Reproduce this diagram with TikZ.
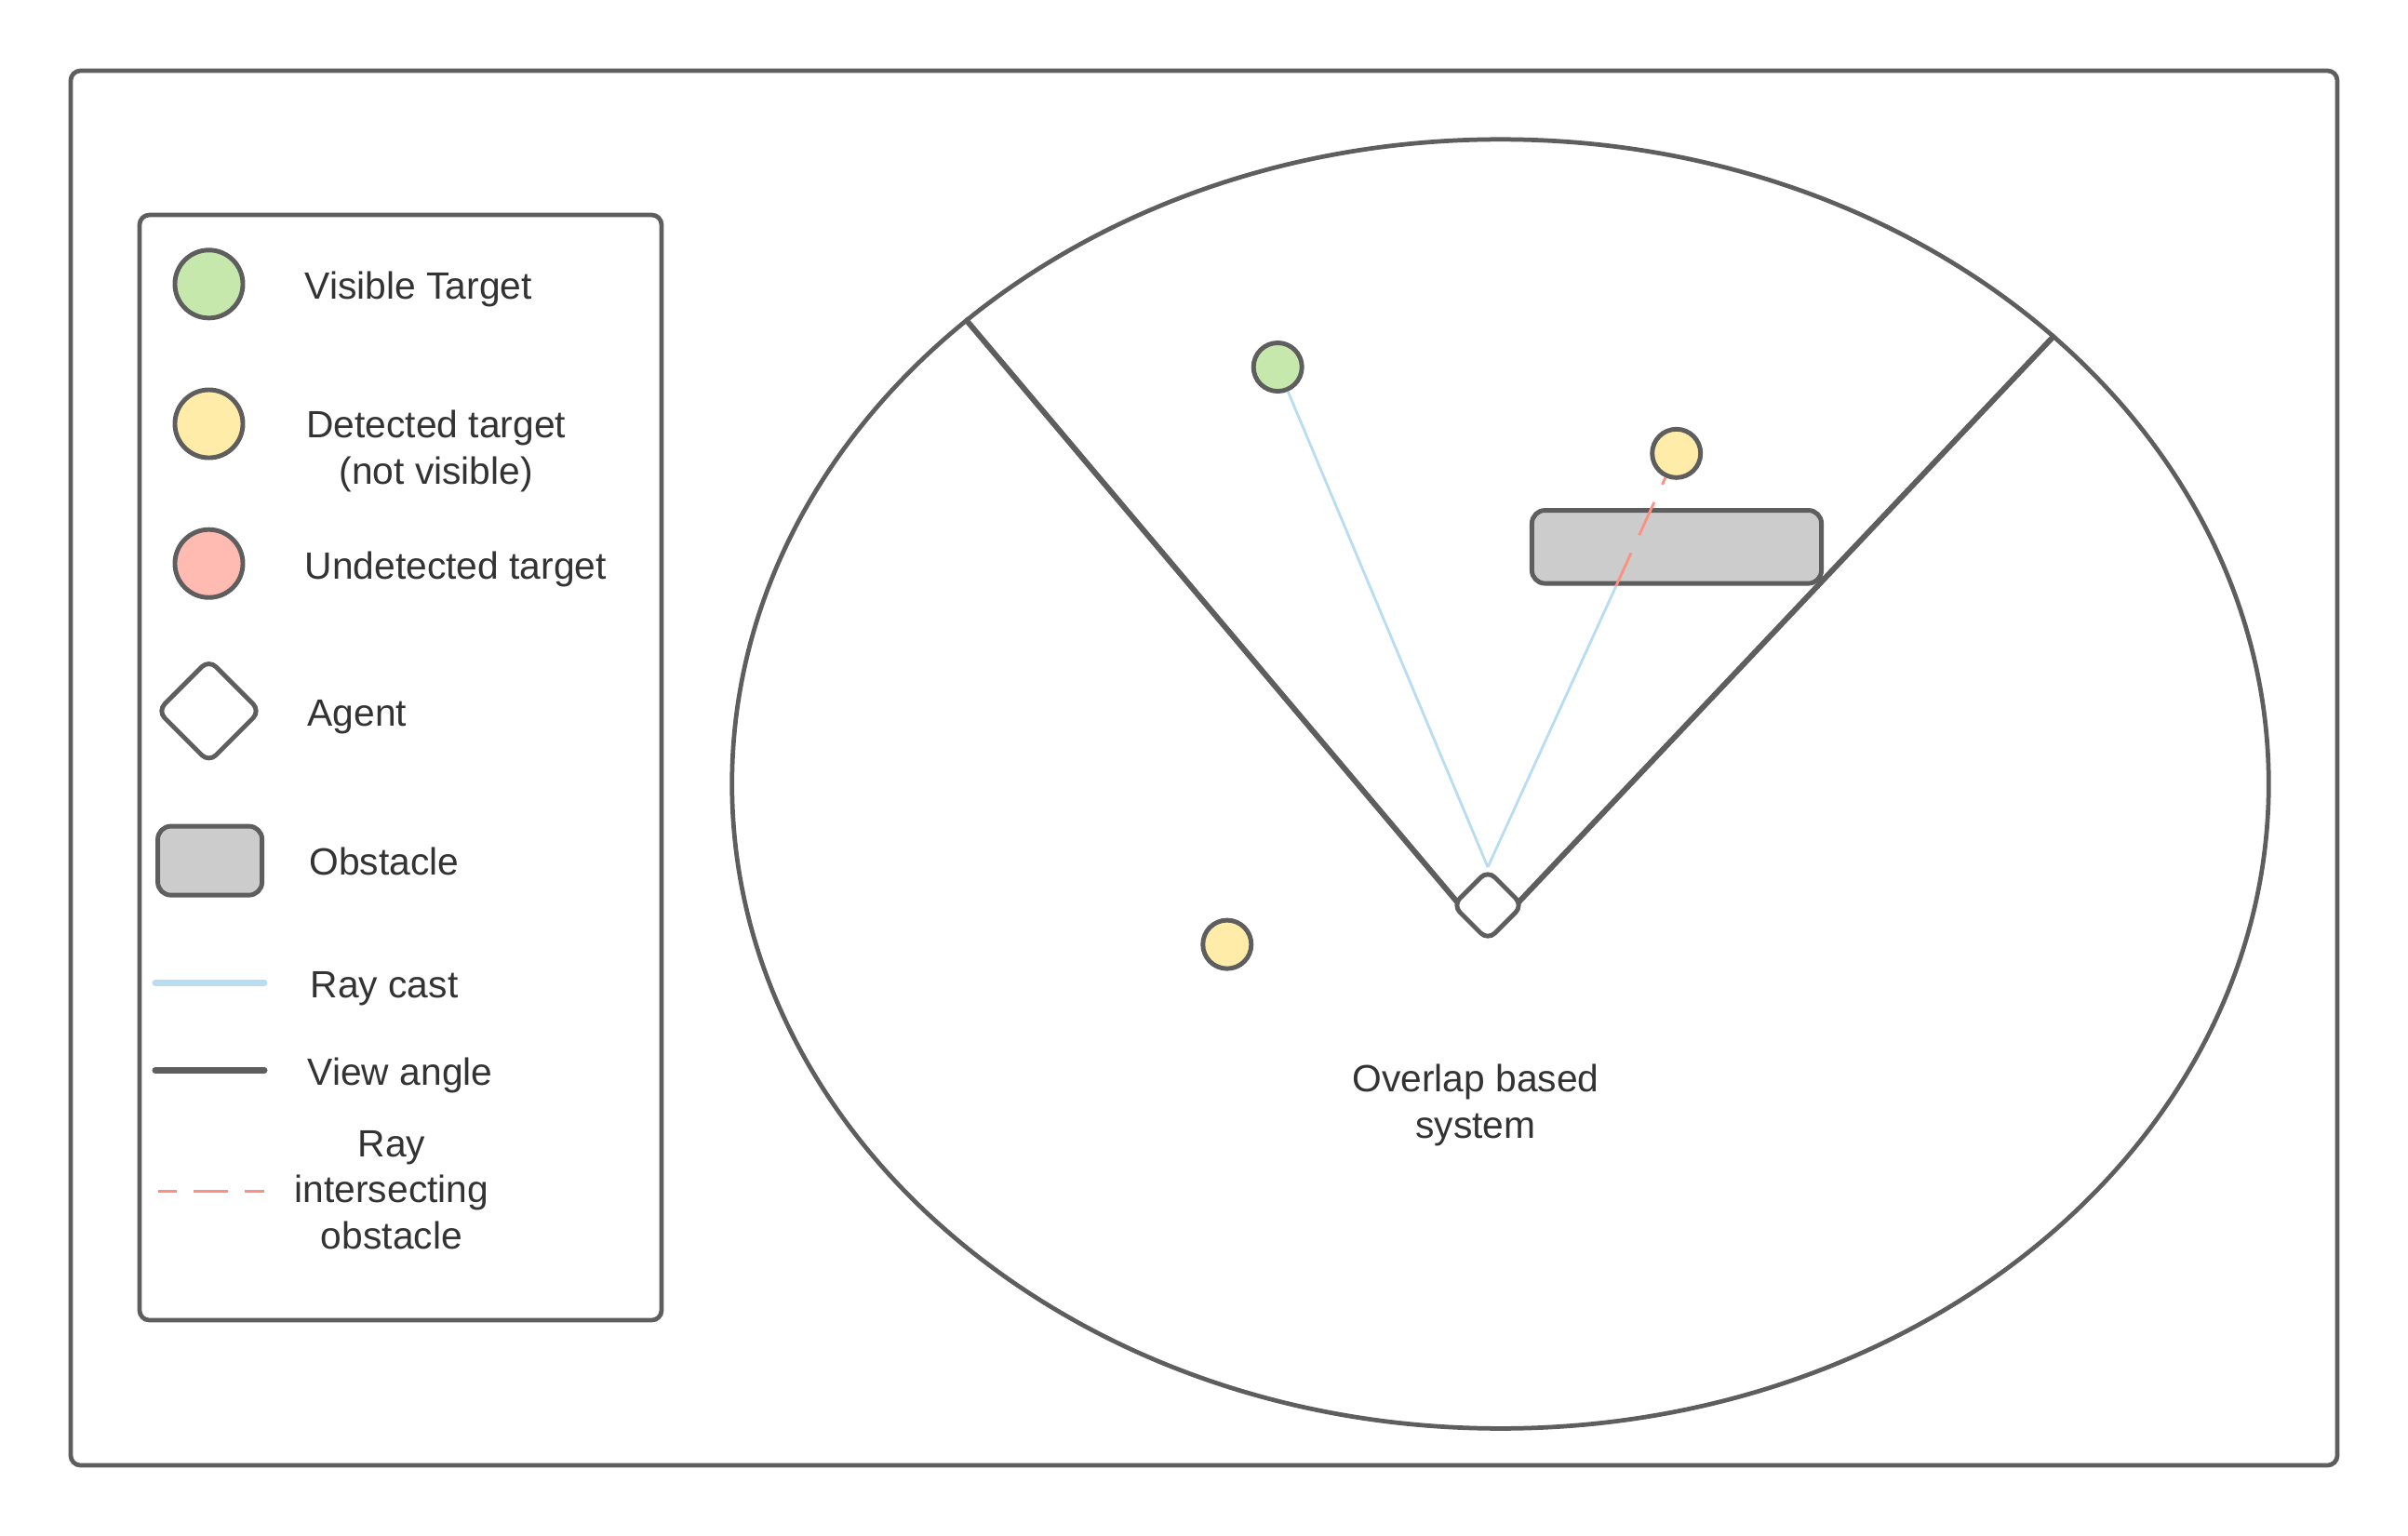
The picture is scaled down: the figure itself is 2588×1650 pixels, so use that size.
\documentclass[tikz,border=0pt]{standalone}
\usepackage{fontspec}
\setmainfont{Liberation Sans}
\usetikzlibrary{shapes.geometric,calc}
\definecolor{edge}{HTML}{5E5E5E}
\definecolor{ink}{HTML}{333333}
\definecolor{visfill}{HTML}{C7E8AC}
\definecolor{detfill}{HTML}{FFECA9}
\definecolor{undfill}{HTML}{FFBBB1}
\definecolor{obstfill}{HTML}{CCCCCC}
\definecolor{raycol}{HTML}{B8DDF3}
\definecolor{hitcol}{HTML}{FF8F80}
\tikzset{
  frame/.style={draw=edge,line width=1.35pt,rounded corners=3pt},
  tgt/.style={circle,draw=edge,line width=1.4pt,inner sep=0pt,minimum size=0.52cm},
  vis/.style={tgt,fill=visfill},
  det/.style={tgt,fill=detfill},
  und/.style={tgt,fill=undfill},
  agentbox/.style={diamond,aspect=1,draw=edge,fill=white,line width=1.4pt,inner sep=0pt,
                   minimum width=0.77cm,minimum height=0.77cm,rounded corners=3pt},
  obst/.style={rectangle,draw=edge,fill=obstfill,line width=1.4pt,rounded corners=4pt,inner sep=0pt},
  ray/.style={draw=raycol,line width=0.8pt},
  hit/.style={draw=hitcol,line width=0.8pt,dash pattern=on 11pt off 6pt},
  view/.style={draw=edge,line width=1.7pt},
  keyline/.style={line width=2pt,line cap=round},
  txt/.style={text=ink,inner sep=0pt,font=\fontsize{11.6}{14.1}\selectfont,align=center}
}

\begin{document}
\begin{tikzpicture}[x=0.01cm,y=-0.01cm]
  \path[use as bounding box,fill=white] (0,0) rectangle (2588,1650);
  \draw[frame] (76,76) rectangle (2512,1575);

  % legend
  \draw[frame] (150,231) rectangle (711,1419);
  \node[vis,minimum size=0.73cm] (keyvis) at (224.5,305.3) {};
  \node[det,minimum size=0.73cm] (keydet) at (224.5,455.5) {};
  \node[und,minimum size=0.73cm] (keyund) at (224.5,605.7) {};
  \node[agentbox,minimum width=1.12cm,minimum height=1.12cm] (keyagent) at (224.5,764.2) {};
  \node[obst,minimum width=1.12cm,minimum height=0.74cm] (keyobst) at (225.6,925.1) {};
  \coordinate (keyray1) at (167,1056.3);   \coordinate (keyray2) at (284,1056.3);
  \coordinate (keyview1) at (167,1150.4);  \coordinate (keyview2) at (284,1150.4);
  \coordinate (keyhit1) at (170,1280.8);   \coordinate (keyhit2) at (284,1280.8);
  \draw[keyline,raycol] (keyray1) -- (keyray2);
  \draw[keyline,edge] (keyview1) -- (keyview2);
  \draw[hit,line width=0.85pt,dash pattern=on 10.5pt off 5.1pt,dash phase=4.8pt] (keyhit1) -- (keyhit2);

  \node[txt,anchor=base west] (lvis) at (327,321.9) {Visible Target};
  \node[txt] (ldet) at (468.7,485) {Detected target\\(not visible)};
  \node[txt,anchor=base west] (lund) at (327,622.2) {Undetected target};
  \node[txt,anchor=base west] (lagent) at (330,780.7) {Agent};
  \node[txt,anchor=base west] (lobst) at (331.8,940.8) {Obstacle};
  \node[txt,anchor=base west] (lray) at (333,1072.8) {Ray cast};
  \node[txt,anchor=base west] (lview) at (330,1166.9) {View angle};
  \node[txt] (lhit) at (420.9,1279) {Ray\\intersecting\\obstacle};

  % overlap area
  \node[ellipse,draw=edge,line width=1.35pt,inner sep=0pt,
        minimum width=16.506cm,minimum height=13.848cm] (zone) at (1612.5,842.6) {};
  \node[txt] (zonelabel) at (1586,1188) {Overlap based\\system};

  \node[obst,minimum width=3.11cm,minimum height=0.785cm] (wall) at (1802,587.8) {};
  \node[vis] (tvis) at (1373.2,394.5) {};
  \node[det] (tdet) at (1801.7,487.3) {};
  \node[det] (tdet2) at (1318.8,1015.1) {};

  % view angle meets the agent corners
  \coordinate (agentpos) at (1599,973);
  \draw[view] (zone.139.5) -- ($(agentpos)+(-30,0)$);
  \draw[view] (zone.39) -- ($(agentpos)+(30,0)$);
  \node[agentbox] (agent) at (agentpos) {};

  \coordinate (hitpt) at (intersection of agent.north--tdet.center and wall.south west--wall.south east);
  \draw[ray] (agent.north) -- (tvis);
  \draw[ray] (agent.north) -- (hitpt);
  \draw[hit] (hitpt) -- (tdet);
\end{tikzpicture}
\end{document}
